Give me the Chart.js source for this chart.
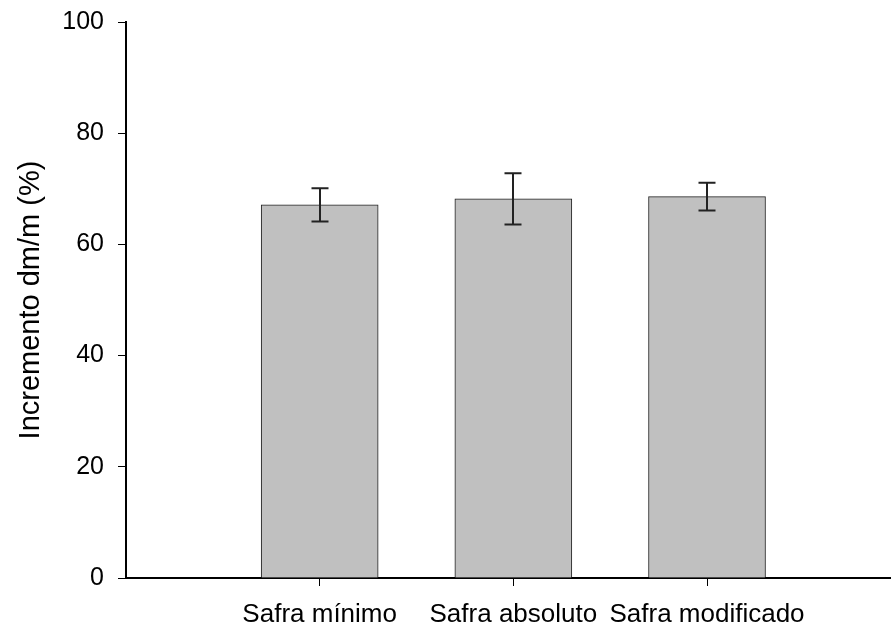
<!DOCTYPE html>
<html>
<head>
<meta charset="utf-8">
<script src="https://cdn.jsdelivr.net/npm/chart.js@4.4.0/dist/chart.umd.min.js"></script>
<style>
  html, body { margin: 0; padding: 0; background: #fff; }
  #wrap { width: 891px; height: 629px; position: relative; }
</style>
</head>
<body>
<div id="wrap"><canvas id="c" width="891" height="629"></canvas></div>
<script>
const categories = ['Safra mínimo', 'Safra absoluto', 'Safra modificado'];
const positions = [1, 2, 3];
const means = [67.1, 68.2, 68.6];
const errors = [3.0, 4.6, 2.5];
const yTicks = [0, 20, 40, 60, 80, 100];
const yTitle = 'Incremento dm/m (%)';

const FONT = '"Liberation Sans", Arial, Helvetica, sans-serif';

const errorBarPlugin = {
  id: 'errorBars',
  afterDatasetsDraw(chart) {
    const ctx = chart.ctx;
    const xs = chart.scales.x, ys = chart.scales.y;
    ctx.save();
    ctx.strokeStyle = '#222';
    ctx.lineWidth = 2;
    means.forEach((m, i) => {
      const x = Math.round(xs.getPixelForValue(positions[i]));
      const yHi = ys.getPixelForValue(m + errors[i]);
      const yLo = ys.getPixelForValue(m - errors[i]);
      const cap = 8.5;
      ctx.beginPath();
      ctx.moveTo(x, yHi); ctx.lineTo(x, yLo);
      ctx.moveTo(x - cap, yHi); ctx.lineTo(x + cap, yHi);
      ctx.moveTo(x - cap, yLo); ctx.lineTo(x + cap, yLo);
      ctx.stroke();
    });
    ctx.restore();
  }
};

new Chart(document.getElementById('c'), {
  type: 'bar',
  data: {
    datasets: [{
      data: positions.map((p, i) => ({ x: p, y: means[i] })),
      backgroundColor: '#c0c0c0',
      borderColor: '#222',
      borderWidth: 1,
      borderSkipped: 'bottom',
      barThickness: 117
    }]
  },
  options: {
    responsive: false,
    animation: false,
    devicePixelRatio: 1,
    layout: { padding: { top: 22, right: 0, left: 0, bottom: 0 } },
    plugins: { legend: { display: false }, tooltip: { enabled: false } },
    scales: {
      x: {
        type: 'linear',
        min: 0,
        max: 3.95,
        offset: false,
        afterBuildTicks(axis) { axis.ticks = positions.map(v => ({ value: v })); },
        afterFit(axis) { axis.height = 51; axis.paddingLeft = 0; axis.paddingRight = 0; },
        ticks: {
          callback(v) { const i = positions.indexOf(v); return i >= 0 ? categories[i] : ''; },
          color: '#000',
          font: { family: FONT, size: 26 },
          padding: 13,
          maxRotation: 0,
          autoSkip: false
        },
        grid: { offset: false, drawOnChartArea: false, drawTicks: true, tickLength: 8, color: '#000', lineWidth: 1 },
        border: { display: true, color: '#000', width: 2 }
      },
      y: {
        min: 0,
        max: 100,
        afterBuildTicks(axis) { axis.ticks = yTicks.map(v => ({ value: v })); },
        afterFit(axis) { axis.width = 126; axis.paddingTop = 0; axis.paddingBottom = 0; },
        ticks: {
          color: '#000',
          font: { family: FONT, size: 25 },
          padding: 14
        },
        title: {
          display: true,
          text: yTitle,
          color: '#000',
          font: { family: FONT, size: 29 },
          padding: { top: 14, bottom: 0 }
        },
        grid: { drawOnChartArea: false, drawTicks: true, tickLength: 8, color: '#000', lineWidth: 1 },
        border: { display: true, color: '#000', width: 2 }
      }
    }
  },
  plugins: [errorBarPlugin]
});
</script>
</body>
</html>
